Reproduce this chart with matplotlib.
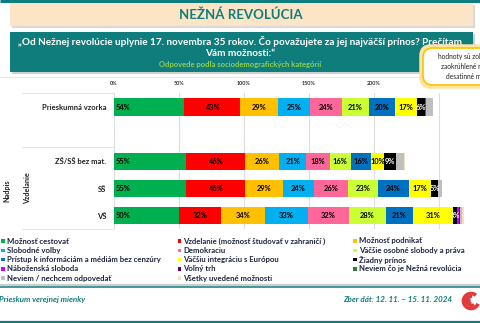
import matplotlib
matplotlib.use("Agg")
import matplotlib.pyplot as plt
from matplotlib.patches import FancyBboxPatch, Rectangle, Arc
from matplotlib.lines import Line2D

plt.rcParams['font.family'] = ['Lato', 'DejaVu Sans']

# ---- data -------------------------------------------------------------
categories = ["Prieskumná vzorka", "", "ZŠ/SŠ bez mat.", "SŠ", "VŠ"]
series_names = [
    "Možnosť cestovať", "Vzdelanie (možnosť študovať v zahraničí )", "Možnosť podnikať",
    "Slobodné voľby", "Demokraciu", "Väčšie osobné slobody a práva",
    "Prístup k informáciám a médiám bez cenzúry", "Väčšiu integráciu s Európou", "Žiadny prínos",
    "Náboženská sloboda", "Voľný trh", "Neviem čo je Nežná revolúcia",
    "Neviem / nechcem odpovedať", "Všetky uvedené možnosti",
]
series_colors = [
    "#00B050", "#FF0000", "#FFC000",
    "#00B0F0", "#FF6699", "#CCFF33",
    "#0070C0", "#FFFF00", "#000000",
    "#CC00FF", "#660066", "#2E7D32",
    "#BFBFBF", "#F8DFC0",
]
# values per series for: Prieskumná vzorka, (gap), ZŠ/SŠ bez mat., SŠ, VŠ
values = [
    [54, 0, 55, 55, 50],
    [43, 0, 46, 46, 32],
    [29, 0, 26, 29, 34],
    [25, 0, 21, 24, 33],
    [24, 0, 18, 26, 32],
    [21, 0, 16, 23, 28],
    [20, 0, 16, 24, 21],
    [17, 0, 10, 17, 31],
    [6, 0, 9, 5, 3],
    [1, 0, 0, 0, 1],
    [0, 0, 0, 0, 1],
    [0, 0, 0, 0, 0],
    [5, 0, 6, 3, 2],
    [0, 0, 1, 0, 1],
]
labeled_series = 9
x_ticks = [0, 50, 100, 150, 200, 250]
x_tick_labels = ["0%", "50%", "100%", "150%", "200%", "250%"]

W, H = 480, 323
TEAL = "#0F7D7C"

fig = plt.figure(figsize=(W / 100, H / 100), dpi=100)
fig.patch.set_facecolor("white")


def fx(x):
    return x / W


def fy(y):
    return 1 - y / H


def hline(y, x0, x1, color, lw):
    fig.add_artist(Line2D([fx(x0), fx(x1)], [fy(y), fy(y)], color=color, lw=lw,
                          transform=fig.transFigure, solid_capstyle="butt"))


def box(x0, y0, x1, y1, fc, ec="none", lw=0, z=1, style="square,pad=0"):
    p = FancyBboxPatch((fx(x0), fy(y1)), fx(x1) - fx(x0), fy(y0) - fy(y1),
                       boxstyle=style, fc=fc, ec=ec, lw=lw,
                       transform=fig.transFigure, zorder=z, mutation_aspect=W / H)
    fig.add_artist(p)
    return p


# ---- header -----------------------------------------------------------
hline(1, 0, W, TEAL, 2.2)
box(12, 5, 475, 28, "#D9D9D9", z=1)
box(10, 3, 473, 26, "#FCE4C6", z=2)
fig.text(fx(241), fy(15), "NEŽNÁ REVOLÚCIA", color=TEAL, fontsize=9.5,
         fontweight="bold", ha="center", va="center", zorder=3)

box(12, 34, 475, 74, "#CFCFCF", z=1)
box(10, 32, 473, 72, TEAL, z=2)
fig.text(fx(240), fy(41.5),
         "„Od Nežnej revolúcie uplynie 17. novembra 35 rokov. Čo považujete za jej najväčší prínos? Prečítam",
         color="white", fontsize=7.2, fontweight="bold", ha="center", va="center", zorder=3)
fig.text(fx(240), fy(53), "Vám možnosti:“", color="white", fontsize=7.2,
         fontweight="bold", ha="center", va="center", zorder=3)
fig.text(fx(240), fy(64.5), "Odpovede podľa sociodemografických kategórií", color="#92D050",
         fontsize=5.5, fontweight="bold", ha="center", va="center", zorder=3)

hline(77, 0, W, "#E6E6E6", 0.8)

# rounded note box
box(421, 46, 500, 87, "#FFE9B0", ec="#FFE3A0", lw=2.5, z=4, style="round,pad=0,rounding_size=0.02")
box(423, 48, 500, 85, "white", ec="#FFC000", lw=1.2, z=5, style="round,pad=0,rounding_size=0.02")
for yy, line in zip([56.5, 66.5, 76.5], ["hodnoty sú zobrazené", "zaokrúhlené na celé", "desatinné miesta"]):
    fig.text(fx(470), fy(yy), line, color="#222222", fontsize=4.8, ha="center",
             va="center", zorder=6)

# ---- bars -------------------------------------------------------------
ax_left, ax_right = 114, 471.5
ax_top, ax_bot = 93.4, 229.4
ax = fig.add_axes([fx(ax_left), fy(ax_bot), fx(ax_right) - fx(ax_left), (ax_bot - ax_top) / H])
ax.set_xlim(0, 275)
ax.set_ylim(4.5, -0.5)
ax.patch.set_alpha(0)
for s in ax.spines.values():
    s.set_visible(False)

ypos = list(range(len(categories)))
left = [0] * len(categories)
for name, color, vals, k in zip(series_names, series_colors, values, range(len(values))):
    bars = ax.barh(ypos, vals, left=left, height=0.63, color=color, zorder=3)
    if k < labeled_series:
        for i, (b, v) in enumerate(zip(bars, vals)):
            if v <= 0:
                continue
            txt_col = "white" if color == "#000000" else "black"
            if k == 0:
                ax.text(left[i] + 1.5, i, f"{v}%", ha="left", va="center", fontsize=5.4,
                        fontweight="bold", color=txt_col, zorder=4)
            else:
                ax.text(left[i] + v / 2, i, f"{v}%", ha="center", va="center", fontsize=5.4,
                        fontweight="bold", color=txt_col, zorder=4)
    left = [l + v for l, v in zip(left, vals)]

ax.set_xticks(x_ticks)
ax.set_xticklabels(x_tick_labels, fontsize=3.9, fontweight="bold", color="#333333")
ax.xaxis.tick_top()
ax.tick_params(axis="x", length=0, pad=5.5)
ax.grid(axis="x", color="#DDDDDD", lw=0.8, zorder=0)
ax.set_yticks([0, 2, 3, 4])
ax.set_yticklabels([categories[i] for i in [0, 2, 3, 4]], fontsize=5.5,
                   fontweight="bold", color="#222222")
ax.tick_params(axis="y", length=0, pad=5.5)

# category table rules and group titles
for yy in [92.5, 147.5, 228.5]:
    hline(yy, 22, 114, "#E4E4E4", 0.8)
fig.text(fx(7), fy(191), "Nadpis", rotation=90, fontsize=5.2, fontweight="bold",
         color="#222222", ha="center", va="center")
fig.text(fx(27.5), fy(188), "Vzdelanie", rotation=90, fontsize=5.2, fontweight="bold",
         color="#222222", ha="center", va="center")

# ---- legend -----------------------------------------------------------
col_x = [1, 177.5, 353]
row_y = [241, 250.3, 259.6, 268.9, 278.2]
for i, (name, color) in enumerate(zip(series_names, series_colors)):
    r, c = divmod(i, 3)
    x0, y0 = col_x[c], row_y[r]
    fig.add_artist(Rectangle((fx(x0), fy(y0 + 1.8)), fx(3.6), 3.6 / H, fc=color, ec="none",
                             transform=fig.transFigure))
    fig.text(fx(x0 + 6), fy(y0), name, fontsize=5.6, fontweight="bold", color="#1E2640",
             ha="left", va="center")

# ---- footer -----------------------------------------------------------
hline(285, 0, W, "#CDCDCD", 1.6)
hline(287.2, 0, W, TEAL, 1.1)
fig.text(fx(-1), fy(299.5), "Prieskum verejnej mienky", fontsize=5.8, fontstyle="italic",
         fontweight="bold", color=TEAL, ha="left", va="center")
fig.text(fx(452), fy(299.5), "Zber dát: 12. 11. – 15. 11. 2024", fontsize=5.8,
         fontstyle="italic", fontweight="bold", color=TEAL, ha="right", va="center")
hline(321.8, 0, W, TEAL, 1.6)

# logo swirl
lx, ly = 471, 301
for rad, lw, t1, t2 in [(15, 2.6, 60, 330), (9, 2.2, 80, 300), (4, 1.8, 100, 280)]:
    fig.add_artist(Arc((fx(lx), fy(ly)), rad / W, rad / H, theta1=t1, theta2=t2,
                       color="#E2393B", lw=lw, transform=fig.transFigure))

fig.savefig("out.png", dpi=100, facecolor="white")
